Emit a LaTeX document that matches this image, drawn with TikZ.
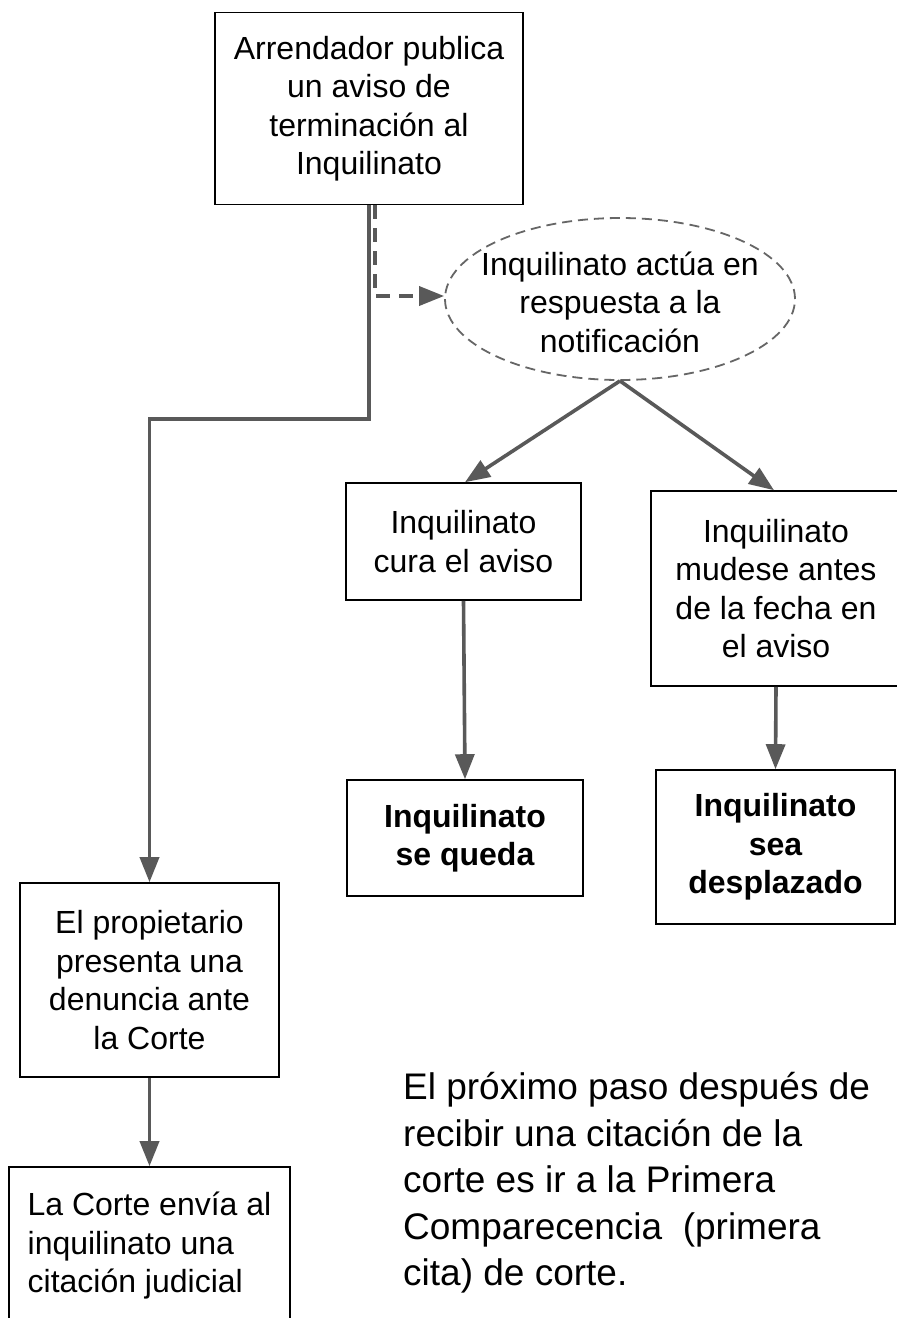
\documentclass[tikz,border=0pt]{standalone}
\usepackage{fontspec}
\setmainfont{Liberation Sans}
\usetikzlibrary{arrows.meta,shapes.geometric}
\definecolor{conn}{HTML}{595959}
\definecolor{ellcol}{HTML}{666666}
\begin{document}
\begin{tikzpicture}[x=1pt,y=-1pt,
  box/.style={draw=black,line width=1.6pt,rectangle,inner sep=0pt,align=center,
    font=\fontsize{32}{38.5}\selectfont},
  boldbox/.style={box,font=\fontsize{32}{38.5}\selectfont\bfseries},
  conn/.style={draw=conn,line width=3.6pt,-{Triangle[length=25pt,width=19pt]}},
  dashconn/.style={conn,dash pattern=on 14pt off 9pt},
  note/.style={align=left,inner sep=0pt,font=\fontsize{37}{46.5}\selectfont}]
\useasboundingbox (0,0) rectangle (897,1318);
\clip (0,0) rectangle (897,1318);
\fill[white] (0,0) rectangle (897,1318);

\node[box,minimum width=308pt,minimum height=192pt] (top) at (369,108.5)
  {Arrendador publica\\un aviso de\\terminación al\\Inquilinato};

\node[ellipse,draw=ellcol,line width=1.8pt,dash pattern=on 10pt off 6pt,
  minimum width=350pt,minimum height=162pt,inner sep=0pt] (ell) at (620,299) {};
\node[align=center,inner sep=0pt,font=\fontsize{32}{38.5}\selectfont] (elltext) at ([yshift=-3pt]ell.center)
  {Inquilinato actúa en\\respuesta a la\\notificación};

\node[box,minimum width=235pt,minimum height=117pt] (cura) at (463.5,541.5)
  {Inquilinato\\cura el aviso};
\node[boldbox,minimum width=236pt,minimum height=116pt] (queda) at (465,838)
  {Inquilinato\\se queda};
\node[box,minimum width=250pt,minimum height=195pt] (mudese) at (776,588.5)
  {Inquilinato\\mudese antes\\de la fecha en\\el aviso};
\node[boldbox,minimum width=239pt,minimum height=154pt] (desp) at (775.5,847)
  {Inquilinato\\sea\\desplazado};
\node[box,minimum width=259pt,minimum height=194pt] (prop) at (149.5,980)
  {El propietario\\presenta una\\denuncia ante\\la Corte};
\node[box,align=left,minimum width=281pt,minimum height=158pt] (corte) at (149.5,1246)
  {La Corte envía al\\inquilinato una\\citación judicial};

\node[note,anchor=west] (nota) at (403,1183)
  {El próximo paso después de\\recibir una citación de la\\corte es ir a la Primera\\Comparecencia\ \ (primera\\cita) de corte.};

\coordinate (bend) at (149.5,419);
\draw[conn] (top.south) |- (bend) -- (prop.north);
\draw[dashconn] ([xshift=6pt]top.south) |- ([yshift=3pt]ell.west);
\draw[conn] (ell.south) -- ([xshift=1.5pt]cura.north);
\draw[conn] (ell.south) -- ([xshift=-2pt]mudese.north);
\draw[conn] (cura.south) -- (queda.north);
\draw[conn] (mudese.south) -- (desp.north);
\draw[conn] (prop.south) -- (corte.north);
\end{tikzpicture}
\end{document}
